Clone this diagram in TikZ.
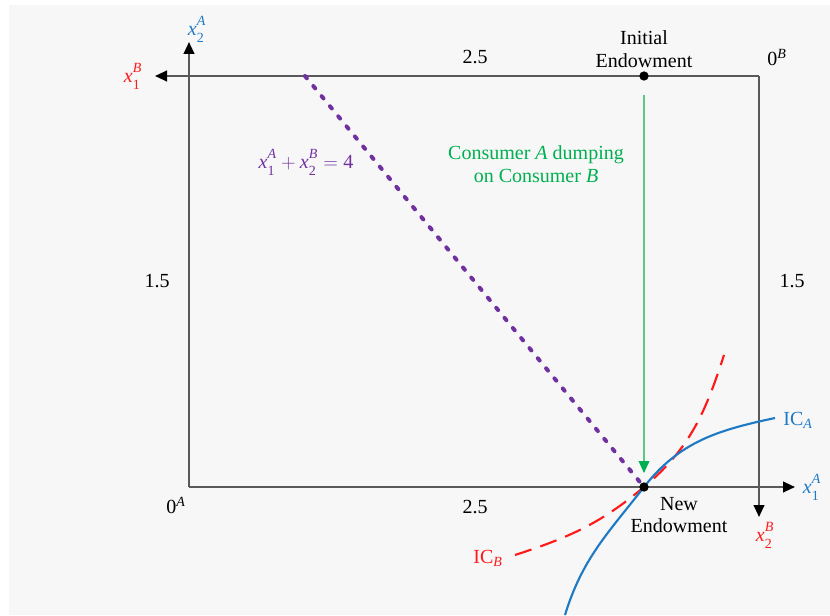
\documentclass[tikz,border=0pt]{standalone}
\usepackage{amsmath}
\usepackage{fontspec}
\setmainfont{Liberation Serif}
\usetikzlibrary{arrows.meta}
\definecolor{ebBlue}{HTML}{1F7AC6}
\definecolor{ebRed}{HTML}{FF1A1A}
\definecolor{ebPurple}{HTML}{7030A0}
\definecolor{ebGreen}{HTML}{00B050}
\definecolor{ebGreenLine}{HTML}{5ACB86}
\definecolor{ebAxis}{HTML}{595959}
\definecolor{ebBack}{HTML}{F7F7F7}
\newcommand{\xsym}[2]{\textit{x}_{\text{\raisebox{-1.5pt}{#1}}}^{\text{\raisebox{2.5pt}{\textit{#2}}}}}
\tikzset{
  eb axis/.style={draw=ebAxis, line width=1.5pt, -{Triangle[length=9pt,width=8pt,color=black]}},
  eb dot/.style={circle, fill=black, inner sep=0pt, minimum size=7pt},
  eb budget/.style={draw=ebPurple, line width=3pt, line cap=round, dash pattern=on 2.2pt off 7.6pt},
  eb dump/.style={draw=ebGreenLine, line width=1.2pt, -{Triangle[length=9pt,width=8pt,color=ebGreen]}},
  eb icA/.style={draw=ebBlue, line width=1.6pt},
  eb icB/.style={draw=ebRed, line width=1.6pt, dash pattern=on 13pt off 7pt},
  eb label/.style={font=\fontsize{15}{17}\selectfont, text=black, inner sep=1pt},
}

\begin{document}
\begin{tikzpicture}[x=0.75pt,y=0.75pt]
\useasboundingbox (0,0) rectangle (830,615);
\fill[ebBack] (9,0) rectangle (830,610);
% box corners and axis tips
\coordinate (OA) at (189,128);
\coordinate (OB) at (759,539);
\coordinate (x2Atip) at (189,573);
\coordinate (x1Btip) at (155,539);
\coordinate (x1Atip) at (795,128);
\coordinate (x2Btip) at (759,98);
\coordinate (init) at (644,539);
\coordinate (new) at (644,128);
\coordinate (budtop) at (305,539);
\coordinate (dumpstart) at (644,520);
\coordinate (dumpend) at (644,142);
\coordinate (icAlow) at (565,0);
\coordinate (icAhigh) at (775,197);
\coordinate (icBlow) at (515,60);
\coordinate (icBhigh) at (724,260);
\draw[eb axis](OA)--(x2Atip);
\draw[eb axis](OA)--(x1Atip);
\draw[eb axis](OB)--(x1Btip);
\draw[eb axis](OB)--(x2Btip);
\draw[eb budget](budtop)--(new);
\draw[eb dump](dumpstart)--(dumpend);
\draw[eb icB](icBlow) to[out=18,in=-140] (new) to[out=40,in=-108] (icBhigh);
\draw[eb icA](icAlow) to[out=73,in=-128] (new) to[out=52,in=192] (icAhigh);
\node[eb dot] (initdot) at (init) {};
\node[eb dot] (newdot) at (new) {};
% labels
\node[eb label,text=ebBlue] (x2Alab) at (197,586) {$\xsym{2}{A}$};
\node[eb label,text=ebRed] (x1Blab) at (133,539) {$\xsym{1}{B}$};
\node[eb label,text=ebBlue] (x1Alab) at (812,128) {$\xsym{1}{A}$};
\node[eb label,text=ebRed] (x2Blab) at (765,80) {$\xsym{2}{B}$};
\node[eb label] (zeroB) at (777,557) {0\textsuperscript{\textit{B}}};
\node[eb label] (zeroA) at (176,110) {0\textsuperscript{\textit{A}}};
\node[eb label] (toplab) at (475,558) {2.5};
\node[eb label] (botlab) at (475,108) {2.5};
\node[eb label] (leftlab) at (157,334) {1.5};
\node[eb label] (rightlab) at (792,334) {1.5};
\node[eb label,align=center,above=5pt] (initlab) at (init) {Initial\\Endowment};
\node[eb label,align=center] (newlab) at (679,100) {New\\Endowment};
\node[eb label,text=ebPurple] (budlab) at (306,453) {$\xsym{1}{A}+\xsym{2}{B}=\textrm{4}$};
\node[eb label,text=ebGreen,align=center] (dumplab) at (536,451) {Consumer \textit{A} dumping\\on Consumer \textit{B}};
\node[eb label,text=ebBlue] (icAlab) at (798,195) {IC\textsubscript{\textit{A}}};
\node[eb label,text=ebRed] (icBlab) at (488,57) {IC\textsubscript{\textit{B}}};
\end{tikzpicture}
\end{document}
